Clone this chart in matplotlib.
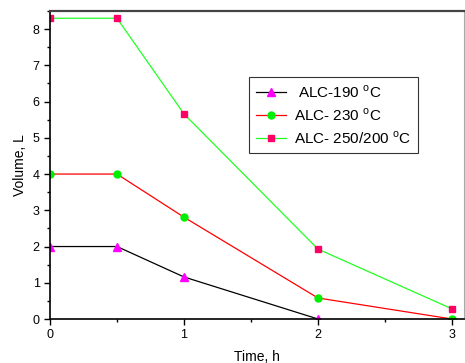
import numpy as np
import matplotlib
matplotlib.use('Agg')
import matplotlib.pyplot as plt
from matplotlib.ticker import MultipleLocator

plt.rcParams['font.family'] = ['Liberation Sans', 'DejaVu Sans']
plt.rcParams['mathtext.fontset'] = 'custom'
plt.rcParams['mathtext.rm'] = 'Liberation Sans'

# time (h) and volume (L) for each run
t_190 = [0, 0.5, 1, 2]
v_190 = [2.0, 2.0, 1.16, 0.0]

t_230 = [0, 0.5, 1, 2, 3]
v_230 = [4.0, 4.0, 2.81, 0.58, 0.0]

t_250 = [0, 0.5, 1, 2, 3]
v_250 = [8.3, 8.3, 5.66, 1.93, 0.28]

labels = [r' ALC-190 $^\mathrm{o}$C', r'ALC- 230 $^\mathrm{o}$C', r'ALC- 250/200 $^\mathrm{o}$C']

fig = plt.figure(figsize=(4.65, 3.63), dpi=100)
ax = fig.add_axes([50 / 465, 44 / 363, 414 / 465, 308 / 363])

ax.plot(t_190, v_190, color='black', lw=0.9, marker='^', ms=5.5,
        mfc='#ff00ff', mec='#ff00ff', label=labels[0])
ax.plot(t_230, v_230, color='red', lw=0.9, marker='o', ms=5,
        mfc='#00ee00', mec='#00ee00', label=labels[1])
ax.plot(t_250, v_250, color='#22ff22', lw=0.9, marker='s', ms=4.8,
        mfc='#ff0066', mec='#ff0066', label=labels[2])

ax.set_xlim(0, 3.09)
ax.set_ylim(0, 8.5)
ax.xaxis.set_major_locator(MultipleLocator(1))
ax.xaxis.set_minor_locator(MultipleLocator(0.5))
ax.yaxis.set_major_locator(MultipleLocator(1))
ax.yaxis.set_minor_locator(MultipleLocator(0.5))
ax.tick_params(which='major', length=4, width=1, labelsize=9, direction='out')
ax.tick_params(which='minor', length=2.5, width=1, direction='out')

ax.spines['top'].set_color('#444444')
ax.spines['top'].set_linewidth(1.6)
ax.spines['right'].set_color('#aaaaaa')
ax.spines['left'].set_linewidth(1.2)
ax.spines['bottom'].set_linewidth(1.2)

ax.set_xlabel('Time, h', fontsize=10, labelpad=6)
ax.set_ylabel('Volume, L', fontsize=10, labelpad=4)

leg = ax.legend(loc='upper left', bbox_to_anchor=(0.48, 0.785), fontsize=11,
                frameon=True, fancybox=False, edgecolor='black',
                handlelength=2.0, handletextpad=0.5, borderpad=0.45,
                labelspacing=0.4, borderaxespad=0)
leg.get_frame().set_linewidth(0.8)

fig.savefig('out.png', dpi=100)
